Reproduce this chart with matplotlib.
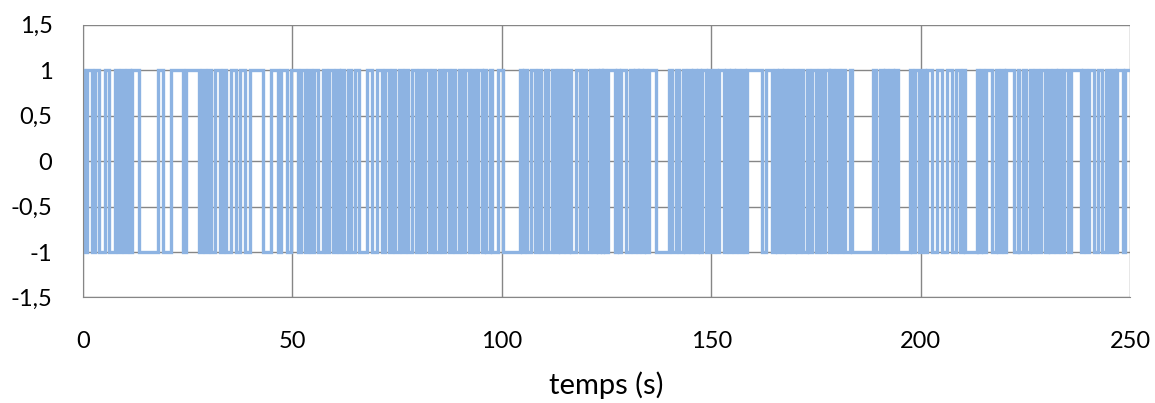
import numpy as np
import matplotlib
matplotlib.use("Agg")
import matplotlib.pyplot as plt

# instants de commutation (s)
switch_times = [
    0.3, 0.9, 2.2, 2.8, 3.9, 5.3, 6.3, 7.6, 8.4, 9.0, 9.7, 10.4, 11.1, 11.8,
    13.4, 18.0, 19.1, 21.0, 23.9, 24.7,
    27.8, 28.5, 29.2, 29.9, 30.6, 31.4, 32.6, 33.4, 34.2, 35.4, 36.6, 37.4, 38.6, 39.8,
    42.9, 44.9, 46.5, 47.3, 48.6, 49.6, 51.3, 52.1, 52.9, 53.7, 54.5, 55.2, 56.0,
    57.2, 58.0, 58.8, 59.6, 60.4, 61.0, 61.6,
    62.3, 63.2, 64.1, 65.0, 65.9, 67.9, 69.0, 70.2,
    71.4, 72.2, 73.0, 73.8, 74.6, 75.4, 76.1, 76.9, 77.7, 78.5, 79.4, 80.2,
    80.9, 81.7, 82.5, 83.3, 84.1, 84.9, 85.7, 86.5, 87.3, 88.1, 88.9, 89.7, 90.4, 91.2,
    92.1, 92.8, 93.6, 94.4, 95.2, 95.7, 96.3, 97.1, 97.6, 99.2, 100.2,
    104.3, 104.8, 105.3, 106.0, 107.0, 107.8, 108.6, 109.4, 110.2, 111.0, 111.9, 112.6,
    113.3, 114.0, 114.6, 115.4, 116.0, 116.6,
    117.8, 118.6, 119.4, 120.2, 121.0, 121.8, 122.5, 123.0, 123.4, 123.8, 124.2, 124.7, 125.3,
    126.9, 127.4, 128.0, 128.5, 129.7, 130.5, 131.3, 131.9, 132.5, 132.8, 133.4, 134.0, 134.4,
    135.2, 136.8, 139.9, 140.7, 141.6, 142.4, 143.2, 143.8, 144.4, 145.2, 145.7, 146.3,
    146.9, 147.4, 147.9, 148.7, 149.3, 149.9, 150.7, 151.3, 151.9, 153.1, 153.6, 154.2, 154.7,
    155.4, 155.8, 156.7, 157.4, 158.0, 158.6, 162.2, 163.0, 164.6, 165.2, 165.8, 166.2, 166.8, 167.3,
    167.9, 168.5, 169.3, 169.9, 170.5, 171.3, 171.9, 172.9, 173.3,
    174.1, 174.9, 175.7, 176.5, 177.2, 178.0, 178.4, 179.1, 179.8, 180.6, 181.3, 182.0, 183.2, 183.6,
    188.6, 189.4, 190.2, 191.0, 191.5, 191.9, 192.7, 193.5, 193.9, 194.7,
    197.5, 197.9, 198.7, 199.5, 200.3, 201.0, 201.4, 202.6, 203.8, 205.2, 206.4,
    207.4, 208.4, 209.3,
    210.2, 210.5, 213.4, 213.7, 214.4, 214.8, 215.5, 217.0, 218.1, 218.5, 219.1, 219.9, 220.4,
    222.4, 223.2, 223.6, 224.4, 225.2, 226.0, 226.6, 227.2, 228.0, 228.8, 229.6, 230.3, 230.8,
    231.5, 232.3, 232.7, 233.5, 234.3, 235.1, 235.9, 238.3, 238.8, 239.5,
    240.3, 241.5, 242.4, 243.4, 244.3, 244.9, 245.8, 246.4, 247.0, 248.2, 248.9,
]
start_level = 1
t_end = 250

x_ticks = [0, 50, 100, 150, 200, 250]
y_ticks = [-1.5, -1, -0.5, 0, 0.5, 1, 1.5]
y_labels = ["-1,5", "-1", "-0,5", "0", "0,5", "1", "1,5"]

plt.rcParams["font.family"] = ["Lato", "DejaVu Sans"]

fig = plt.figure(figsize=(11.55, 4.03), dpi=100)
ax = fig.add_axes([0.0719, 0.2618, 0.9065, 0.6772])

levels = start_level * (-1.0) ** np.arange(len(switch_times) + 1)
edges = np.concatenate([[0], switch_times, [t_end]])
ax.stairs(levels, edges, baseline=None, color="#8DB3E2", linewidth=2.4)

ax.set_xlim(0, 250)
ax.set_ylim(-1.5, 1.5)
ax.set_xticks(x_ticks)
ax.set_yticks(y_ticks)
ax.set_yticklabels(y_labels)
ax.grid(True, color="#868686", linewidth=1)
ax.set_axisbelow(True)
for side in ["top", "right"]:
    ax.spines[side].set_visible(False)
for side in ["left", "bottom"]:
    ax.spines[side].set_color("#868686")
ax.tick_params(length=0, labelsize=17, colors="#000000")
ax.tick_params(axis="x", pad=24)
ax.tick_params(axis="y", pad=22)
ax.set_xlabel("temps (s)", fontsize=21, labelpad=14)

fig.savefig("out.png", dpi=100)
